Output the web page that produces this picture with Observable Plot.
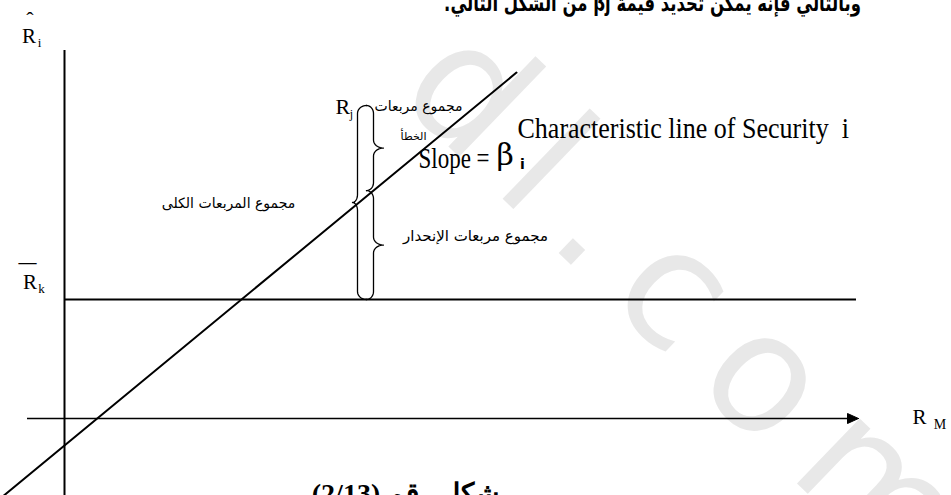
<!DOCTYPE html>
<html>
<head>
<meta charset="utf-8">
<script src="https://cdn.jsdelivr.net/npm/d3@7"></script>
<script src="https://cdn.jsdelivr.net/npm/@observablehq/plot@0.6"></script>
<style>
  html, body { margin: 0; padding: 0; background: #fff; }
  #chart svg { display: block; }
</style>
</head>
<body>
<div id="chart"></div>
<script>
// Market model: characteristic line R_i = alpha + beta * R_M (arbitrary return units)
const alpha = -2.7;
const beta = 0.825;
const meanReturn = 11.9;      // R̄k
const obsMarket = 29.3;       // market return of the highlighted observation
const obsReturn = 31.3;       // its actual return R_j
const lineSpan = [-6.4, 45.2];
const xAxisSpan = [-3.7, 79.2];
const yAxisSpan = [-7.7, 36.8];

// Text
const RLE = "\u202B", PDF = "\u202C";   // right-to-left embedding for Arabic lines
const titleText = "وبالتالي فإنه يمكن تحديد قيمة βj من الشكل التالي.";
const captionText = "شكل رقم (2/13)";
const lineLabel = "Characteristic line of Security  i";
const totalLabel = "مجموع المربعات الكلى";
const regressionLabel = "مجموع مربعات الإنحدار";
const errorLabel = ["مجموع مربعات", "الخطأ"];
const watermarkText = "dl.com";

const fit = x => alpha + beta * x;

// characteristic line end points
const lineData = lineSpan.map(x => ({x, y: fit(x)}));

// curly brace path sampled as points (xs = spine, xe = end curls, xt = tip)
function brace(id, xs, xe, xt, y0, y1, r) {
  const pts = [];
  const n = 10;
  const ym = (y0 + y1) / 2;
  for (let i = 0; i <= n; i++) {
    const t = (i / n) * Math.PI / 2;
    pts.push({id, x: xe - (xe - xs) * Math.sin(t), y: y0 - r + r * Math.cos(t)});
  }
  for (let i = 0; i <= n; i++) {
    const t = (i / n) * Math.PI / 2;
    pts.push({id, x: xs + (xt - xs) * (1 - Math.cos(t)), y: ym + r - r * Math.sin(t)});
  }
  for (let i = n; i >= 0; i--) {
    const t = (i / n) * Math.PI / 2;
    pts.push({id, x: xs + (xt - xs) * (1 - Math.cos(t)), y: ym - r + r * Math.sin(t)});
  }
  for (let i = n; i >= 0; i--) {
    const t = (i / n) * Math.PI / 2;
    pts.push({id, x: xe - (xe - xs) * Math.sin(t), y: y1 + r - r * Math.cos(t)});
  }
  return pts;
}

const rightSpine = obsMarket + 1.6;
const fitRight = fit(rightSpine);
const braces = [
  ...brace("total", obsMarket, obsMarket + 0.9, obsMarket - 0.5, obsReturn, meanReturn, 0.8),
  ...brace("error", rightSpine, obsMarket + 0.9, rightSpine + 1.0, obsReturn, fitRight, 0.8),
  ...brace("regression", rightSpine, obsMarket + 0.9, rightSpine + 1.0, fitRight, meanReturn, 0.8)
];

// filled arrow head at the end of the R_M axis
const arrowHead = [
  {x: xAxisSpan[1] + 0.2, y: 0},
  {x: xAxisSpan[1] - 0.9, y: 0.5},
  {x: xAxisSpan[1] - 0.9, y: -0.5},
  {x: xAxisSpan[1] + 0.2, y: 0}
];

const serif = "Liberation Serif";
const arabic = "DejaVu Sans";

function label(text, x, y, opts = {}) {
  return Plot.text([text], {
    x: () => x, y: () => y, text: d => d,
    lineAnchor: "bottom", fill: "black", fontFamily: serif, ...opts
  });
}

const chart = Plot.plot({
  width: 951,
  height: 495,
  margin: 0,
  x: {domain: [-6.4, 88.7], axis: null},
  y: {domain: [-7.7, 41.8], axis: null},
  style: {background: "white"},
  marks: [
    // faint diagonal watermark
    label(watermarkText, 33.0, 32.4, {fontFamily: "DejaVu Sans", fontSize: 165, fill: "#e8e8e8", rotate: 44, textAnchor: "start"}),
    // axes
    Plot.ruleX([0], {y1: yAxisSpan[0], y2: yAxisSpan[1], stroke: "black", strokeWidth: 2}),
    Plot.ruleY([0], {x1: xAxisSpan[0], x2: xAxisSpan[1] - 0.5, stroke: "black", strokeWidth: 1.6}),
    Plot.line(arrowHead, {x: "x", y: "y", fill: "black", stroke: "black", strokeWidth: 1}),
    // mean return level
    Plot.ruleY([meanReturn], {x1: 0, x2: xAxisSpan[1], stroke: "black", strokeWidth: 2}),
    // characteristic line
    Plot.line(lineData, {x: "x", y: "y", stroke: "black", strokeWidth: 2}),
    // sums-of-squares braces
    Plot.line(braces, {x: "x", y: "y", z: "id", stroke: "black", strokeWidth: 1.3}),

    // page text around the figure
    label(RLE + titleText + PDF, 58.8, 40.8, {fontFamily: arabic, fontWeight: "bold", fontSize: 16.5}),
    label(RLE + captionText + PDF, 34.1, -8.4, {fontSize: 28, fontWeight: "bold"}),

    // axis names
    label("R", -3.55, 37.6, {fontSize: 21}),
    label("i", -2.5, 37.2, {fontSize: 13}),
    label("ˆ", -3.45, 39.2, {fontSize: 22}),
    label("R", -3.45, 13.0, {fontSize: 21}),
    label("k", -2.3, 12.6, {fontSize: 13}),
    label("—", -3.7, 15.05, {fontSize: 18, fontWeight: "bold"}),
    label("R", 85.5, -0.5, {fontSize: 21}),
    label("M", 87.55, -1.0, {fontSize: 14}),

    // line annotations
    label(lineLabel, 45.3, 28.1, {fontSize: 26, textAnchor: "start"}),
    label("Slope = ", 35.4, 25.1, {fontSize: 23, textAnchor: "start"}),
    label("β", 43.2, 25.4, {fontSize: 30, textAnchor: "start", fontFamily: "DejaVu Serif"}),
    label("i", 45.8, 25.0, {fontSize: 14, fontWeight: "bold", fontFamily: "DejaVu Sans"}),
    label("R", 27.1, 30.5, {fontSize: 22, textAnchor: "start"}),
    label("j", 28.7, 30.1, {fontSize: 12}),

    // Arabic sums-of-squares labels
    label(errorLabel[0], 39.8, 31.2, {fontFamily: arabic, fontSize: 14, lineAnchor: "middle", textAnchor: "end"}),
    label(errorLabel[1], 34.9, 28.2, {fontFamily: arabic, fontSize: 11, lineAnchor: "middle"}),
    label(totalLabel, 16.4, 21.5, {fontFamily: arabic, fontSize: 14, lineAnchor: "middle"}),
    label(regressionLabel, 41.1, 18.2, {fontFamily: arabic, fontSize: 15, lineAnchor: "middle"})
  ]
});

// vertical stretch for some labels and spacing for the watermark
function adjust(svg, match, fn) {
  svg.querySelectorAll("text").forEach(t => { if (t.textContent.includes(match)) fn(t); });
}
function stretchY(k) {
  return t => {
    const tr = t.getAttribute("transform");
    if (tr) t.setAttribute("transform", `${tr} scale(1,${k})`);
  };
}
adjust(chart, "وبالتالي", stretchY(1.35));
adjust(chart, "Slope", stretchY(1.3));
adjust(chart, "Characteristic", stretchY(1.1));
adjust(chart, watermarkText, t => { t.style.letterSpacing = "30px"; });

document.getElementById("chart").appendChild(chart);
</script>
</body>
</html>
